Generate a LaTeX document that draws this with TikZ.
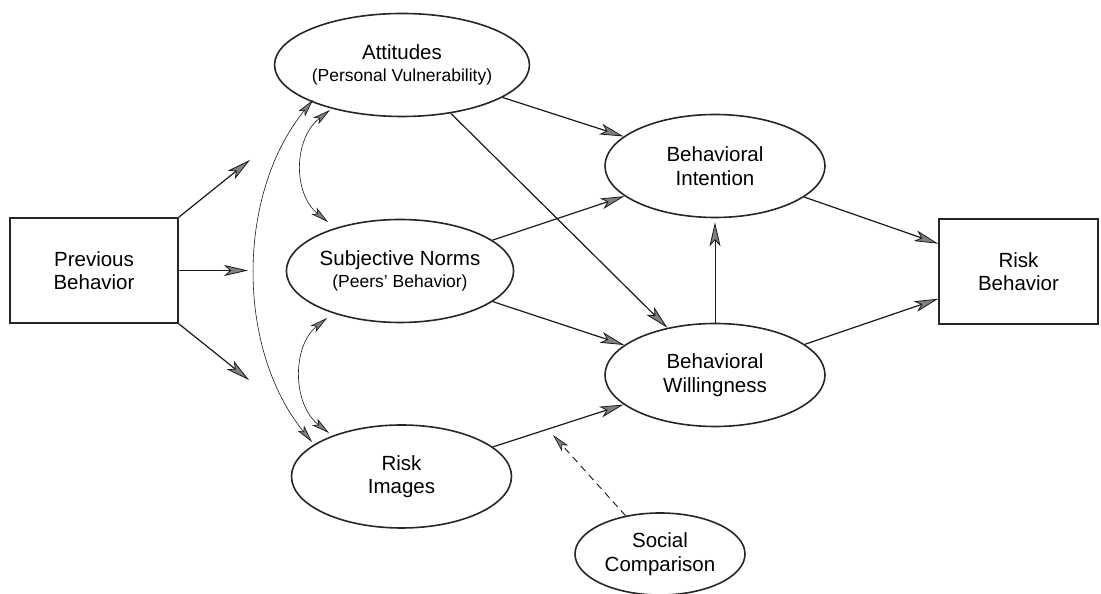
\documentclass[tikz,border=0pt]{standalone}
\usepackage{fontspec}
\setmainfont{Liberation Sans}
\usetikzlibrary{shapes.geometric,arrows.meta,calc}
\tikzset{
  mainfont/.style={font=\fontsize{20.5}{23.5}\selectfont},
  boxnode/.style={draw=black!85, line width=1.5pt, minimum width=#1, minimum height=105pt, inner sep=0pt, align=center, mainfont},
  ell/.style={ellipse, draw=black!85, line width=1.6pt, minimum width=220pt, minimum height=103pt, inner sep=0pt, align=center, mainfont},
  tip/.tip={Stealth[length=24pt,width=11pt,inset=6pt,fill=black!50,line width=0.8pt]},
  smalltip/.tip={Stealth[length=18pt,width=8.5pt,inset=4.5pt,fill=black!50,line width=0.7pt]},
  arr/.style={line width=1.2pt, draw=black!90, -tip},
  curv/.style={line width=0.6pt, draw=black!90, smalltip-smalltip},
  dasharr/.style={line width=0.9pt, draw=black!90, dash pattern=on 7pt off 5pt, -smalltip},
}
\begin{document}
\begin{tikzpicture}[x=1pt,y=1pt]
\useasboundingbox (0,0) rectangle (1101,594);
% nodes
\node[boxnode=168pt] (prev) at (94,323.5) {Previous\\Behavior};
\node[boxnode=159pt] (riskb) at (1018.5,322.5) {Risk\\Behavior};
\node[ell] (att) at (402,529) {Attitudes\\[-2pt]{\fontsize{17.5}{20}\selectfont (Personal Vulnerability)}};
\node[ell] (sn) at (400,323) {Subjective Norms\\[-2pt]{\fontsize{17.5}{20}\selectfont (Peers' Behavior)}};
\node[ell] (ri) at (401.5,117.5) {Risk\\Images};
\node[ell] (bi) at (715,428) {Behavioral\\Intention};
\node[ell] (bw) at (715,219) {Behavioral\\Willingness};
\node[ell, minimum width=170pt, minimum height=82pt] (sc) at (660,40) {Social\\Comparison};
% free ends
\coordinate (pu) at (250,434);
\coordinate (pm) at (248,323.5);
\coordinate (pd) at (249,214);
\coordinate (dtip) at (553,159);
\coordinate (attA) at (313,494);
\coordinate (attB) at (330,484);
\coordinate (snA) at (328,372);
\coordinate (snB) at (327,276);
\coordinate (riA) at (312,152);
\coordinate (riB) at (329,161);
% connectors
\draw[arr] (prev.north east) -- (pu);
\draw[arr] (prev.east) -- (pm);
\draw[arr] (prev.south east) -- (pd);
\draw[arr] (att) -- (bi);
\draw[arr] (att) -- (bw);
\draw[arr] (sn) -- (bi);
\draw[arr] (sn) -- (bw);
\draw[arr] (ri) -- (bw);
\draw[arr, line width=0.9pt, shorten >=4pt] (bw.north) -- (bi.south);
\draw[arr] (bi) -- (riskb);
\draw[arr] (bw) -- (riskb);
\draw[dasharr] (sc) -- (dtip);
% curved correlations
\draw[curv] (attA) .. controls (236,400) and (236,245) .. (riA);
\draw[curv] (attB) .. controls (293,455) and (293,400) .. (snA);
\draw[curv] (snB) .. controls (292,248) and (292,190) .. (riB);
\end{tikzpicture}
\end{document}
